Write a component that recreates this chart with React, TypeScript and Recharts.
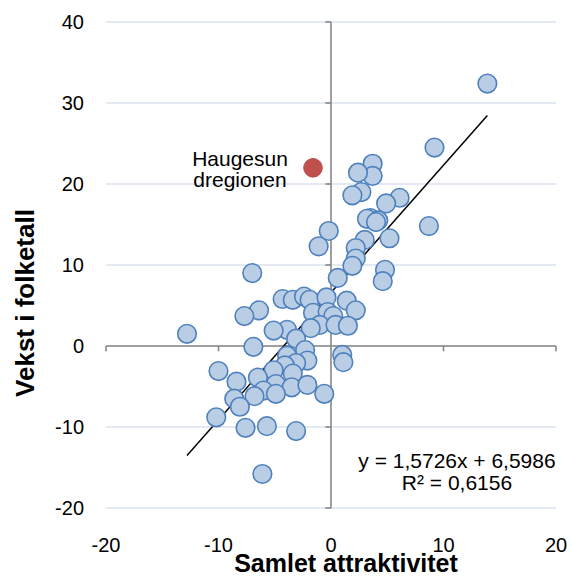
import React from 'react';
import { ScatterChart, Scatter, XAxis, YAxis, CartesianGrid, ReferenceLine } from 'recharts';

const xTicks = [-20, -10, 0, 10, 20];
const yTicks = [-20, -10, 0, 10, 20, 30, 40];

const blueX = [
  13.9, 9.2, 3.7, 3.7, 2.4, 2.7, 1.9, 6.1, 4.9, 3.5, 3.2, 4.2, 4.0, 8.7, -0.2, -1.1, 5.2, 3.0, 2.2, 2.2,
  1.9, 4.8, 4.6, -7.0, 0.6, -4.3, -3.4, -2.4, -1.9, -0.4, 1.4, 2.2, -6.4, -7.7, -1.6, -0.3, 0.2, -1.0, 0.4, 1.5,
  -1.8, -3.9, -5.1, -12.8, -3.1, -6.9, -2.3, -3.9, -2.1, 1.0, 1.1, -3.1, -4.1, -10.0, -5.1, -3.4, -6.5, -8.4, -4.9, -3.5,
  -2.1, -0.6, -6.0, -6.8, -8.6, -8.1, -4.9, -10.2, -7.6, -5.7, -3.1, -6.1,
];
const blueY = [
  32.4, 24.5, 22.5, 21.0, 21.4, 19.0, 18.6, 18.3, 17.6, 15.8, 15.7, 15.5, 15.3, 14.8, 14.2, 12.3, 13.3, 13.1, 12.1, 10.8,
  9.9, 9.4, 8.0, 9.0, 8.4, 5.8, 5.7, 6.1, 5.7, 6.0, 5.6, 4.4, 4.4, 3.7, 4.1, 4.2, 3.7, 2.6, 2.6, 2.5,
  2.2, 2.0, 1.9, 1.5, 0.9, -0.1, -0.5, -1.2, -1.8, -1.1, -2.0, -2.1, -2.4, -3.1, -3.0, -3.4, -3.9, -4.4, -4.7, -5.1,
  -4.8, -5.9, -5.5, -6.2, -6.5, -7.5, -5.9, -8.8, -10.1, -9.9, -10.5, -15.8,
];
const highlightName = ['Haugesun', 'dregionen'];
const highlightX = [-1.6];
const highlightY = [22.0];

const slope = 1.5726;
const intercept = 6.5986;
const rSquared = '0,6156';
const equationText = 'y = 1,5726x + 6,5986';
const xTitle = 'Samlet attraktivitet';
const yTitle = 'Vekst i folketall';

const blueData = blueX.map((x, i) => ({ x, y: blueY[i] }));
const redData = highlightX.map((x, i) => ({ x, y: highlightY[i] }));
const xMin = Math.min(...blueX, ...highlightX);
const xMax = Math.max(...blueX, ...highlightX);

const FONT = '"Liberation Sans", Arial, sans-serif';
const AXIS_GRAY = '#878787';

const BlueDot = (props: any) => (
  <circle cx={props.cx} cy={props.cy} r={9.3} fill="#b9cde5" stroke="#4f81bd" strokeWidth={1.6} />
);

const RedDot = (props: any) => (
  <g>
    <circle cx={props.cx} cy={props.cy} r={9.3} fill="#c0504d" stroke="#b94a47" strokeWidth={1} />
    <text x={props.cx - 73} y={props.cy - 2} textAnchor="middle" fontSize={21} fontFamily={FONT} fill="#000">
      {highlightName[0]}
    </text>
    <text x={props.cx - 73} y={props.cy + 19} textAnchor="middle" fontSize={21} fontFamily={FONT} fill="#000">
      {highlightName[1]}
    </text>
  </g>
);

const XTick = (props: any) => (
  <text x={props.x} y={552} textAnchor="middle" fontSize={20} fontFamily={FONT} fill="#000">
    {props.payload.value}
  </text>
);

const YTick = (props: any) => (
  <text x={84} y={props.y} dy={7} textAnchor="end" fontSize={20} fontFamily={FONT} fill="#000">
    {props.payload.value}
  </text>
);

export default function App() {
  return (
    <div style={{ position: 'absolute', left: 0, top: 0, width: 571, height: 576, background: '#fff' }}>
      <ScatterChart width={571} height={576} margin={{ top: 22, right: 15, bottom: 0, left: 0 }}>
        <CartesianGrid horizontal vertical={false} stroke="#dae3ef" strokeWidth={1.5} />
        <XAxis
          type="number"
          dataKey="x"
          domain={[-20, 20]}
          ticks={xTicks}
          axisLine={false}
          tickLine={false}
          height={68}
          tick={<XTick />}
          interval={0}
        />
        <YAxis
          type="number"
          dataKey="y"
          domain={[-20, 40]}
          ticks={yTicks}
          axisLine={false}
          tickLine={false}
          width={106}
          tick={<YTick />}
          interval={0}
        />
        <ReferenceLine y={0} stroke={AXIS_GRAY} strokeWidth={1.6} />
        <ReferenceLine x={0} stroke={AXIS_GRAY} strokeWidth={1.6} />
        {xTicks.filter((t) => t !== 0).map((t) => (
          <ReferenceLine
            key={'xt' + t}
            segment={[{ x: t, y: 0 }, { x: t, y: -0.65 }]}
            stroke={AXIS_GRAY}
            strokeWidth={1.6}
            ifOverflow="visible"
          />
        ))}
        {yTicks.filter((t) => t !== 0).map((t) => (
          <ReferenceLine
            key={'yt' + t}
            segment={[{ x: 0, y: t }, { x: -0.5, y: t }]}
            stroke={AXIS_GRAY}
            strokeWidth={1.6}
            ifOverflow="visible"
          />
        ))}
        <Scatter data={blueData} shape={<BlueDot />} isAnimationActive={false} />
        <Scatter data={redData} shape={<RedDot />} isAnimationActive={false} />
        <ReferenceLine
          segment={[
            { x: xMin, y: slope * xMin + intercept },
            { x: xMax, y: slope * xMax + intercept },
          ]}
          stroke="#000"
          strokeWidth={1.5}
          ifOverflow="visible"
        />
        <text x={457} y={468} textAnchor="middle" fontSize={21} fontFamily={FONT} fill="#000">
          {equationText}
        </text>
        <text x={457} y={490} textAnchor="middle" fontSize={21} fontFamily={FONT} fill="#000">
          {'R² = ' + rSquared}
        </text>
        <text x={346} y={572} textAnchor="middle" fontSize={25} fontWeight="bold" fontFamily={FONT} fill="#000">
          {xTitle}
        </text>
        <text
          x={34}
          y={303}
          transform="rotate(-90, 34, 303)"
          textAnchor="middle"
          fontSize={26}
          fontWeight="bold"
          fontFamily={FONT}
          fill="#000"
        >
          {yTitle}
        </text>
      </ScatterChart>
    </div>
  );
}
